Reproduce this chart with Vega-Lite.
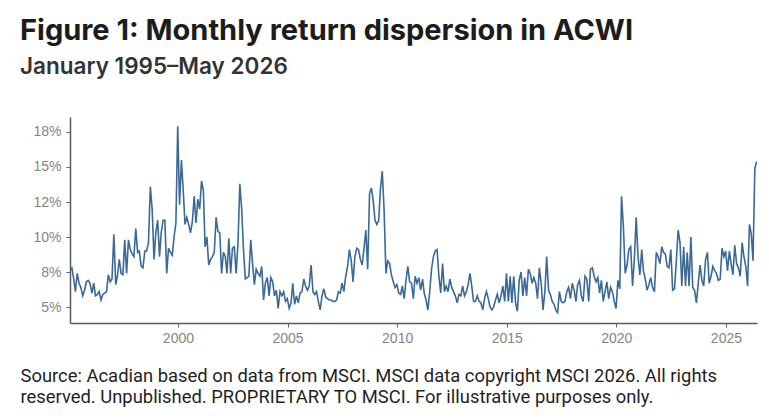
{
  "$schema": "https://vega.github.io/schema/vega-lite/v6.json",
  "autosize": "none",
  "width": 687,
  "height": 206,
  "padding": {"left": 70, "top": 117, "right": 12, "bottom": 95},
  "background": "white",
  "config": {"view": {"stroke": null}},
  "title": {
    "text": "Figure 1: Monthly return dispersion in ACWI",
    "subtitle": "January 1995–May 2026",
    "anchor": "start",
    "frame": "group",
    "dx": -50,
    "offset": 39,
    "font": "Inter",
    "fontSize": 29,
    "fontWeight": 700,
    "color": "#1c1c1c",
    "subtitleFont": "Inter",
    "subtitleFontSize": 22.5,
    "subtitleFontWeight": 600,
    "subtitleColor": "#333333",
    "subtitlePadding": 10
  },
  "data": {"values": [
{"date":"1995-01-28","v":7.6},{"date":"1995-02-28","v":7.8},{"date":"1995-03-28","v":7.1},{"date":"1995-04-28","v":6.1},{"date":"1995-05-28","v":7.4},{"date":"1995-06-28","v":6.7},{"date":"1995-07-28","v":6.4},{"date":"1995-08-28","v":5.8},{"date":"1995-09-28","v":6.2},{"date":"1995-10-28","v":6.8},{"date":"1995-11-28","v":6.9},{"date":"1995-12-28","v":6.7},
{"date":"1996-01-28","v":6.0},{"date":"1996-02-28","v":6.7},{"date":"1996-03-28","v":5.8},{"date":"1996-04-28","v":5.9},{"date":"1996-05-28","v":6.1},{"date":"1996-06-28","v":5.5},{"date":"1996-07-28","v":5.9},{"date":"1996-08-28","v":6.0},{"date":"1996-09-28","v":6.1},{"date":"1996-10-28","v":7.3},{"date":"1996-11-28","v":6.8},{"date":"1996-12-28","v":7.0},
{"date":"1997-01-28","v":10.2},{"date":"1997-02-28","v":6.6},{"date":"1997-03-28","v":7.2},{"date":"1997-04-28","v":8.4},{"date":"1997-05-28","v":7.4},{"date":"1997-06-28","v":7.3},{"date":"1997-07-28","v":9.8},{"date":"1997-08-28","v":7.4},{"date":"1997-09-28","v":9.8},{"date":"1997-10-28","v":9.1},{"date":"1997-11-28","v":8.8},{"date":"1997-12-28","v":8.6},
{"date":"1998-01-28","v":10.6},{"date":"1998-02-28","v":8.9},{"date":"1998-03-28","v":9.0},{"date":"1998-04-28","v":7.9},{"date":"1998-05-28","v":7.8},{"date":"1998-06-28","v":9.0},{"date":"1998-07-28","v":9.0},{"date":"1998-08-28","v":9.6},{"date":"1998-09-28","v":13.6},{"date":"1998-10-28","v":12.0},{"date":"1998-11-28","v":8.4},{"date":"1998-12-28","v":10.3},
{"date":"1999-01-28","v":11.2},{"date":"1999-02-28","v":8.6},{"date":"1999-03-28","v":10.3},{"date":"1999-04-28","v":11.2},{"date":"1999-05-28","v":11.2},{"date":"1999-06-28","v":7.4},{"date":"1999-07-28","v":9.2},{"date":"1999-08-28","v":8.9},{"date":"1999-09-28","v":8.7},{"date":"1999-10-28","v":10.0},{"date":"1999-11-28","v":11.0},{"date":"1999-12-28","v":17.9},
{"date":"2000-01-28","v":12.3},{"date":"2000-02-28","v":15.5},{"date":"2000-03-28","v":13.4},{"date":"2000-04-28","v":10.9},{"date":"2000-05-28","v":11.4},{"date":"2000-06-28","v":10.9},{"date":"2000-07-28","v":10.3},{"date":"2000-08-28","v":11.1},{"date":"2000-09-28","v":12.9},{"date":"2000-10-28","v":11.0},{"date":"2000-11-28","v":12.7},{"date":"2000-12-28","v":12.0},
{"date":"2001-01-28","v":14.0},{"date":"2001-02-28","v":13.3},{"date":"2001-03-28","v":9.3},{"date":"2001-04-28","v":10.0},{"date":"2001-05-28","v":8.0},{"date":"2001-06-28","v":8.4},{"date":"2001-07-28","v":8.6},{"date":"2001-08-28","v":8.9},{"date":"2001-09-28","v":11.4},{"date":"2001-10-28","v":10.4},{"date":"2001-11-28","v":10.3},{"date":"2001-12-28","v":7.4},
{"date":"2002-01-28","v":8.9},{"date":"2002-02-28","v":8.6},{"date":"2002-03-28","v":7.4},{"date":"2002-04-28","v":9.9},{"date":"2002-05-28","v":7.4},{"date":"2002-06-28","v":9.2},{"date":"2002-07-28","v":9.3},{"date":"2002-08-28","v":7.4},{"date":"2002-09-28","v":9.6},{"date":"2002-10-28","v":13.8},{"date":"2002-11-28","v":12.0},{"date":"2002-12-28","v":9.1},
{"date":"2003-01-28","v":7.0},{"date":"2003-02-28","v":7.1},{"date":"2003-03-28","v":7.2},{"date":"2003-04-28","v":9.8},{"date":"2003-05-28","v":8.1},{"date":"2003-06-28","v":6.6},{"date":"2003-07-28","v":7.7},{"date":"2003-08-28","v":7.4},{"date":"2003-09-28","v":7.2},{"date":"2003-10-28","v":7.9},{"date":"2003-11-28","v":5.5},{"date":"2003-12-28","v":6.7},
{"date":"2004-01-28","v":7.1},{"date":"2004-02-28","v":5.8},{"date":"2004-03-28","v":7.1},{"date":"2004-04-28","v":6.8},{"date":"2004-05-28","v":5.8},{"date":"2004-06-28","v":6.2},{"date":"2004-07-28","v":4.9},{"date":"2004-08-28","v":6.1},{"date":"2004-09-28","v":5.8},{"date":"2004-10-28","v":6.1},{"date":"2004-11-28","v":5.4},{"date":"2004-12-28","v":5.6},
{"date":"2005-01-28","v":4.9},{"date":"2005-02-28","v":5.3},{"date":"2005-03-28","v":6.7},{"date":"2005-04-28","v":5.2},{"date":"2005-05-28","v":5.8},{"date":"2005-06-28","v":5.3},{"date":"2005-07-28","v":6.0},{"date":"2005-08-28","v":6.1},{"date":"2005-09-28","v":7.0},{"date":"2005-10-28","v":6.5},{"date":"2005-11-28","v":6.2},{"date":"2005-12-28","v":6.5},
{"date":"2006-01-28","v":8.0},{"date":"2006-02-28","v":6.1},{"date":"2006-03-28","v":5.9},{"date":"2006-04-28","v":6.1},{"date":"2006-05-28","v":5.4},{"date":"2006-06-28","v":4.8},{"date":"2006-07-28","v":5.8},{"date":"2006-08-28","v":6.3},{"date":"2006-09-28","v":5.7},{"date":"2006-10-28","v":5.6},{"date":"2006-11-28","v":5.5},{"date":"2006-12-28","v":5.5},
{"date":"2007-01-28","v":5.4},{"date":"2007-02-28","v":5.4},{"date":"2007-03-28","v":5.5},{"date":"2007-04-28","v":6.1},{"date":"2007-05-28","v":6.0},{"date":"2007-06-28","v":6.7},{"date":"2007-07-28","v":6.1},{"date":"2007-08-28","v":7.2},{"date":"2007-09-28","v":7.9},{"date":"2007-10-28","v":9.1},{"date":"2007-11-28","v":8.3},{"date":"2007-12-28","v":6.8},
{"date":"2008-01-28","v":8.6},{"date":"2008-02-28","v":9.2},{"date":"2008-03-28","v":9.1},{"date":"2008-04-28","v":8.4},{"date":"2008-05-28","v":8.0},{"date":"2008-06-28","v":9.2},{"date":"2008-07-28","v":10.5},{"date":"2008-08-28","v":7.7},{"date":"2008-09-28","v":13.1},{"date":"2008-10-28","v":13.5},{"date":"2008-11-28","v":12.6},{"date":"2008-12-28","v":11.2},
{"date":"2009-01-28","v":10.9},{"date":"2009-02-28","v":11.2},{"date":"2009-03-28","v":13.4},{"date":"2009-04-28","v":14.7},{"date":"2009-05-28","v":12.0},{"date":"2009-06-28","v":7.4},{"date":"2009-07-28","v":8.3},{"date":"2009-08-28","v":8.1},{"date":"2009-09-28","v":7.3},{"date":"2009-10-28","v":6.8},{"date":"2009-11-28","v":6.4},{"date":"2009-12-28","v":6.6},
{"date":"2010-01-28","v":6.0},{"date":"2010-02-28","v":5.9},{"date":"2010-03-28","v":6.5},{"date":"2010-04-28","v":5.6},{"date":"2010-05-28","v":6.9},{"date":"2010-06-28","v":7.9},{"date":"2010-07-28","v":6.8},{"date":"2010-08-28","v":6.7},{"date":"2010-09-28","v":5.6},{"date":"2010-10-28","v":7.2},{"date":"2010-11-28","v":6.7},{"date":"2010-12-28","v":7.1},
{"date":"2011-01-28","v":6.2},{"date":"2011-02-28","v":7.0},{"date":"2011-03-28","v":6.0},{"date":"2011-04-28","v":5.5},{"date":"2011-05-28","v":4.8},{"date":"2011-06-28","v":6.1},{"date":"2011-07-28","v":7.7},{"date":"2011-08-28","v":8.6},{"date":"2011-09-28","v":9.0},{"date":"2011-10-28","v":9.1},{"date":"2011-11-28","v":7.2},{"date":"2011-12-28","v":6.0},
{"date":"2012-01-28","v":8.1},{"date":"2012-02-28","v":6.1},{"date":"2012-03-28","v":6.5},{"date":"2012-04-28","v":6.1},{"date":"2012-05-28","v":7.0},{"date":"2012-06-28","v":6.4},{"date":"2012-07-28","v":6.1},{"date":"2012-08-28","v":5.8},{"date":"2012-09-28","v":5.3},{"date":"2012-10-28","v":5.9},{"date":"2012-11-28","v":5.8},{"date":"2012-12-28","v":6.5},
{"date":"2013-01-28","v":5.8},{"date":"2013-02-28","v":6.1},{"date":"2013-03-28","v":6.6},{"date":"2013-04-28","v":7.4},{"date":"2013-05-28","v":6.5},{"date":"2013-06-28","v":5.4},{"date":"2013-07-28","v":5.4},{"date":"2013-08-28","v":5.8},{"date":"2013-09-28","v":5.4},{"date":"2013-10-28","v":5.3},{"date":"2013-11-28","v":4.8},{"date":"2013-12-28","v":5.6},
{"date":"2014-01-28","v":6.1},{"date":"2014-02-28","v":5.6},{"date":"2014-03-28","v":5.0},{"date":"2014-04-28","v":4.8},{"date":"2014-05-28","v":5.0},{"date":"2014-06-28","v":5.5},{"date":"2014-07-28","v":5.9},{"date":"2014-08-28","v":5.3},{"date":"2014-09-28","v":5.8},{"date":"2014-10-28","v":6.5},{"date":"2014-11-28","v":5.4},{"date":"2014-12-28","v":7.4},
{"date":"2015-01-28","v":5.4},{"date":"2015-02-28","v":7.2},{"date":"2015-03-28","v":5.3},{"date":"2015-04-28","v":7.2},{"date":"2015-05-28","v":5.3},{"date":"2015-06-28","v":4.7},{"date":"2015-07-28","v":6.9},{"date":"2015-08-28","v":7.5},{"date":"2015-09-28","v":5.8},{"date":"2015-10-28","v":7.1},{"date":"2015-11-28","v":5.8},{"date":"2015-12-28","v":7.7},
{"date":"2016-01-28","v":7.4},{"date":"2016-02-28","v":6.7},{"date":"2016-03-28","v":7.1},{"date":"2016-04-28","v":6.7},{"date":"2016-05-28","v":5.6},{"date":"2016-06-28","v":7.8},{"date":"2016-07-28","v":6.7},{"date":"2016-08-28","v":4.8},{"date":"2016-09-28","v":6.1},{"date":"2016-10-28","v":8.6},{"date":"2016-11-28","v":6.2},{"date":"2016-12-28","v":5.9},
{"date":"2017-01-28","v":5.4},{"date":"2017-02-28","v":5.2},{"date":"2017-03-28","v":4.8},{"date":"2017-04-28","v":4.6},{"date":"2017-05-28","v":6.1},{"date":"2017-06-28","v":5.4},{"date":"2017-07-28","v":5.3},{"date":"2017-08-28","v":5.4},{"date":"2017-09-28","v":6.1},{"date":"2017-10-28","v":6.4},{"date":"2017-11-28","v":5.6},{"date":"2017-12-28","v":6.7},
{"date":"2018-01-28","v":6.2},{"date":"2018-02-28","v":5.4},{"date":"2018-03-28","v":6.6},{"date":"2018-04-28","v":6.9},{"date":"2018-05-28","v":5.8},{"date":"2018-06-28","v":5.4},{"date":"2018-07-28","v":7.2},{"date":"2018-08-28","v":7.0},{"date":"2018-09-28","v":5.4},{"date":"2018-10-28","v":7.7},{"date":"2018-11-28","v":7.8},{"date":"2018-12-28","v":7.2},
{"date":"2019-01-28","v":6.8},{"date":"2019-02-28","v":7.1},{"date":"2019-03-28","v":6.0},{"date":"2019-04-28","v":6.9},{"date":"2019-05-28","v":5.4},{"date":"2019-06-28","v":6.1},{"date":"2019-07-28","v":6.8},{"date":"2019-08-28","v":5.6},{"date":"2019-09-28","v":6.4},{"date":"2019-10-28","v":6.1},{"date":"2019-11-28","v":5.4},{"date":"2019-12-28","v":4.9},
{"date":"2020-01-28","v":6.9},{"date":"2020-02-28","v":6.3},{"date":"2020-03-28","v":12.9},{"date":"2020-04-28","v":10.8},{"date":"2020-05-28","v":7.4},{"date":"2020-06-28","v":8.0},{"date":"2020-07-28","v":9.1},{"date":"2020-08-28","v":9.3},{"date":"2020-09-28","v":6.5},{"date":"2020-10-28","v":8.4},{"date":"2020-11-28","v":11.4},{"date":"2020-12-28","v":8.6},
{"date":"2021-01-28","v":7.3},{"date":"2021-02-28","v":9.1},{"date":"2021-03-28","v":7.6},{"date":"2021-04-28","v":7.0},{"date":"2021-05-28","v":6.2},{"date":"2021-06-28","v":6.6},{"date":"2021-07-28","v":7.1},{"date":"2021-08-28","v":6.4},{"date":"2021-09-28","v":6.1},{"date":"2021-10-28","v":8.9},{"date":"2021-11-28","v":8.6},{"date":"2021-12-28","v":8.1},
{"date":"2022-01-28","v":9.3},{"date":"2022-02-28","v":8.9},{"date":"2022-03-28","v":8.8},{"date":"2022-04-28","v":7.9},{"date":"2022-05-28","v":7.8},{"date":"2022-06-28","v":9.1},{"date":"2022-07-28","v":6.2},{"date":"2022-08-28","v":6.3},{"date":"2022-09-28","v":8.3},{"date":"2022-10-28","v":10.5},{"date":"2022-11-28","v":9.6},{"date":"2022-12-28","v":6.5},
{"date":"2023-01-28","v":9.3},{"date":"2023-02-28","v":6.5},{"date":"2023-03-28","v":8.9},{"date":"2023-04-28","v":6.5},{"date":"2023-05-28","v":10.0},{"date":"2023-06-28","v":6.4},{"date":"2023-07-28","v":6.2},{"date":"2023-08-28","v":5.3},{"date":"2023-09-28","v":6.7},{"date":"2023-10-28","v":8.0},{"date":"2023-11-28","v":6.9},{"date":"2023-12-28","v":6.5},
{"date":"2024-01-28","v":8.4},{"date":"2024-02-28","v":8.9},{"date":"2024-03-28","v":6.7},{"date":"2024-04-28","v":7.2},{"date":"2024-05-28","v":7.9},{"date":"2024-06-28","v":7.6},{"date":"2024-07-28","v":7.4},{"date":"2024-08-28","v":6.9},{"date":"2024-09-28","v":7.0},{"date":"2024-10-28","v":9.2},{"date":"2024-11-28","v":8.6},{"date":"2024-12-28","v":9.0},
{"date":"2025-01-28","v":7.6},{"date":"2025-02-28","v":9.0},{"date":"2025-03-28","v":8.1},{"date":"2025-04-28","v":7.3},{"date":"2025-05-28","v":9.4},{"date":"2025-06-28","v":8.1},{"date":"2025-07-28","v":7.8},{"date":"2025-08-28","v":7.2},{"date":"2025-09-28","v":9.6},{"date":"2025-10-28","v":8.6},{"date":"2025-11-28","v":7.9},{"date":"2025-12-28","v":6.5},
{"date":"2026-01-28","v":10.9},{"date":"2026-02-28","v":10.2},{"date":"2026-03-28","v":8.3},{"date":"2026-04-28","v":14.9},{"date":"2026-05-28","v":15.4}
  ]},
  "mark": {"type": "line", "color": "#3b6995", "strokeWidth": 1.6, "clip": true},
  "encoding": {
    "x": {
      "field": "date",
      "type": "temporal",
      "scale": {
        "type": "utc",
        "domain": [
          {"year": 1995, "month": 1, "date": 28, "utc": true},
          {"year": 2026, "month": 6, "date": 3, "utc": true}
        ]
      },
      "axis": {
        "grid": false,
        "tickCount": {"interval": "year", "step": 5},
        "format": "%Y",
        "labelFont": "Liberation Sans",
        "labelFontSize": 14,
        "labelColor": "#858585",
        "labelPadding": 4,
        "tickSize": 4,
        "tickColor": "#666666",
        "tickWidth": 1,
        "domainColor": "#5a5a5a",
        "domainWidth": 1.5,
        "title": ["Source: Acadian based on data from MSCI. MSCI data copyright MSCI 2026. All rights", "reserved. Unpublished. PROPRIETARY TO MSCI. For illustrative purposes only."],
        "titleFont": "Roboto",
        "titleFontSize": 18.4,
        "titleFontWeight": "normal",
        "titleColor": "#1f1f1f",
        "titleAlign": "left",
        "titleBaseline": "alphabetic",
        "titleX": -50,
        "titleY": 58.5,
        "titleLineHeight": 21
      }
    },
    "y": {
      "field": "v",
      "type": "quantitative",
      "scale": {"domain": [3.86, 18.57], "nice": false, "zero": false},
      "axis": {
        "grid": false,
        "values": [5, 7.5, 10, 12.5, 15, 17.5],
        "labelExpr": "datum.value == 7.5 ? '8%' : datum.value == 12.5 ? '12%' : datum.value == 17.5 ? '18%' : datum.value + '%'",
        "labelFont": "Liberation Sans",
        "labelFontSize": 14,
        "labelColor": "#858585",
        "labelPadding": 5,
        "tickSize": 4,
        "tickColor": "#666666",
        "tickWidth": 1,
        "domainColor": "#5a5a5a",
        "domainWidth": 1.5,
        "title": null
      }
    }
  }
}
